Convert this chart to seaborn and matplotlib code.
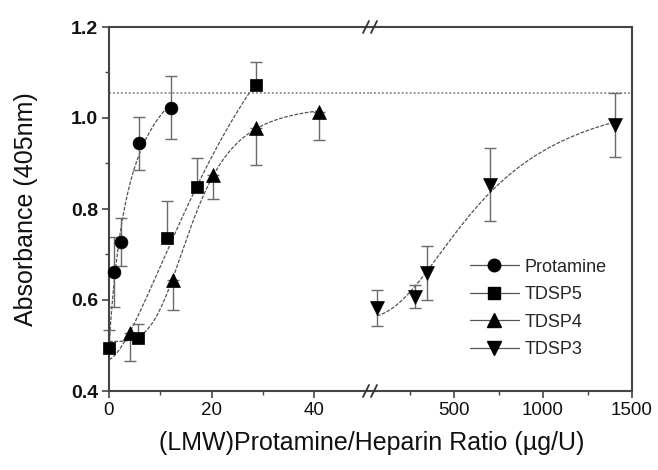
import numpy as np
import pandas as pd
import matplotlib
matplotlib.use("Agg")
import matplotlib.pyplot as plt
from matplotlib.lines import Line2D
from matplotlib.ticker import FixedLocator, MultipleLocator
import seaborn as sns

# Mean absorbance at 405 nm with error, per protamine/heparin ratio (ug/U)
baseline_x = [0.0]
baseline_y = [0.494]

protamine_x = [1.0, 2.4, 5.9, 12.0]
protamine_y = [0.662, 0.728, 0.944, 1.023]
protamine_err = [0.077, 0.053, 0.058, 0.07]

tdsp5_x = [0.0, 5.7, 11.4, 17.1, 28.6]
tdsp5_y = [0.494, 0.517, 0.737, 0.849, 1.073]
tdsp5_err = [0.04, 0.03, 0.08, 0.062, 0.05]

tdsp4_x = [4.1, 12.4, 20.3, 28.7, 40.9]
tdsp4_y = [0.527, 0.645, 0.875, 0.977, 1.014]
tdsp4_err = [0.06, 0.068, 0.053, 0.08, 0.062]

tdsp3_x = [67, 281, 348, 702, 1404]
tdsp3_y = [0.582, 0.607, 0.659, 0.853, 0.985]
tdsp3_err = [0.04, 0.025, 0.06, 0.08, 0.07]

max_response = 1.056

series_names = ["Protamine", "TDSP5", "TDSP4", "TDSP3"]
y_ticks = [0.4, 0.6, 0.8, 1.0, 1.2]
left_ticks = [0, 20, 40]
right_ticks = [500, 1000, 1500]

sns.set_theme(style="ticks")
plt.rcParams["font.family"] = ["Liberation Sans", "DejaVu Sans"]
plt.rcParams["axes.edgecolor"] = "#444444"
plt.rcParams["axes.linewidth"] = 1.5

W, H = 658, 470
fig = plt.figure(figsize=(W / 100, H / 100), dpi=100)


def px_box(x0, x1, y_top, y_bot):
    return [x0 / W, 1 - y_bot / H, (x1 - x0) / W, (y_bot - y_top) / H]


ax_l = fig.add_axes(px_box(109, 370, 27, 391))
ax_r = fig.add_axes(px_box(370, 632, 27, 391), sharey=ax_l)


def hill_curve(x, y, n_range, n_pts=200):
    """Least-squares Hill fit y = a + b * x^n / (k^n + x^n)."""
    x = np.asarray(x, float)
    y = np.asarray(y, float)
    best = None
    for k in np.geomspace(x.max() * 0.05, x.max() * 8, 160):
        for n in np.linspace(n_range[0], n_range[1], 41):
            xn = x ** n
            basis = np.column_stack([np.ones_like(x), xn / (k ** n + xn)])
            coef, *_ = np.linalg.lstsq(basis, y, rcond=None)
            res = float(((basis @ coef - y) ** 2).sum())
            if best is None or res < best[0]:
                best = (res, k, n, coef)
    _, k, n, coef = best
    xs = np.linspace(x.min(), x.max(), n_pts)
    xsn = xs ** n
    return xs, coef[0] + coef[1] * xsn / (k ** n + xsn)


curve_style = dict(color="#555555", linewidth=0.9, dashes=(3, 1.2))
err_style = dict(fmt="none", ecolor="#6a6a6a", elinewidth=1.0,
                 capsize=4, capthick=1.0, zorder=2, clip_on=False)
mk = dict(color="black", edgecolor="black", linewidth=0.5, zorder=4,
          clip_on=False, legend=False)

# fitted curves
fits = [
    (ax_l, baseline_x + protamine_x, baseline_y + protamine_y, (1.0, 2.0)),
    (ax_l, tdsp5_x, tdsp5_y, (1.0, 1.5)),
    (ax_l, baseline_x + tdsp4_x, baseline_y + tdsp4_y, (1.0, 4.0)),
    (ax_r, tdsp3_x, tdsp3_y, (1.0, 2.2)),
]
for ax, fx, fy, n_range in fits:
    xs, ys = hill_curve(fx, fy, n_range)
    df = pd.DataFrame({"x": xs, "y": ys})
    sns.lineplot(data=df, x="x", y="y", ax=ax, sort=False, estimator=None,
                 **curve_style)

# error bars (both sides / upper only / lower only)
z = lambda v: [0] * len(v)
ax_l.errorbar(protamine_x, protamine_y, yerr=[protamine_err, protamine_err], **err_style)
ax_l.errorbar(tdsp5_x, tdsp5_y, yerr=[z(tdsp5_err), tdsp5_err], **err_style)
ax_l.errorbar(tdsp4_x, tdsp4_y, yerr=[tdsp4_err, z(tdsp4_err)], **err_style)
ax_r.errorbar(tdsp3_x, tdsp3_y, yerr=[tdsp3_err, tdsp3_err], **err_style)

# markers
sns.scatterplot(x=protamine_x, y=protamine_y, ax=ax_l, marker="o", s=85, **mk)
sns.scatterplot(x=tdsp5_x, y=tdsp5_y, ax=ax_l, marker="s", s=80, **mk)
sns.scatterplot(x=tdsp4_x, y=tdsp4_y, ax=ax_l, marker="^", s=100, **mk)
sns.scatterplot(x=tdsp3_x, y=tdsp3_y, ax=ax_r, marker="v", s=100, **mk)

# maximal-response reference line
for ax in (ax_l, ax_r):
    ax.axhline(max_response, color="#8a8a8a", linewidth=1.3,
               linestyle=(0, (1, 1.2)), zorder=1)
    ax.set_xlabel("")
    ax.set_ylabel("")

# axis ranges and ticks
ax_l.set_ylim(0.4, 1.2)
ax_l.set_xlim(0, 50.9)
ax_r.set_xlim(28, 1500)

ax_l.yaxis.set_major_locator(FixedLocator(y_ticks))
ax_l.yaxis.set_minor_locator(MultipleLocator(0.1))
ax_l.xaxis.set_major_locator(FixedLocator(left_ticks))
ax_l.xaxis.set_minor_locator(FixedLocator([10, 30]))
ax_r.xaxis.set_major_locator(FixedLocator(right_ticks))
ax_r.xaxis.set_minor_locator(FixedLocator([250, 750, 1250]))
ax_l.set_yticklabels([f"{v:.1f}" for v in y_ticks], fontsize=14, fontweight="bold")
ax_l.set_xticklabels([str(v) for v in left_ticks], fontsize=13.5)
ax_r.set_xticklabels([str(v) for v in right_ticks], fontsize=13.5)

for ax in (ax_l, ax_r):
    ax.tick_params(which="major", length=5, width=1.2, color="#444444",
                   direction="out", pad=3, labelcolor="#111111")
    ax.tick_params(which="minor", length=3, width=1.0, color="#444444",
                   direction="out")
    ax.tick_params(top=False, right=False, which="both")
    ax.spines["top"].set_visible(True)

ax_l.spines["right"].set_visible(False)
ax_r.spines["left"].set_visible(False)
ax_r.tick_params(axis="y", which="both", left=False, labelleft=False)

# break marks on the x axis gap
for yb in (27, 391):
    for xb in (366, 374):
        fig.add_artist(Line2D([(xb - 3) / W, (xb + 3) / W],
                              [1 - (yb + 6) / H, 1 - (yb - 6) / H],
                              transform=fig.transFigure, color="#333333",
                              linewidth=1.3))

# axis titles
fig.text(26 / W, 1 - 209 / H, "Absorbance (405nm)", rotation=90,
         ha="center", va="center", fontsize=18, color="#111111")
fig.text(372 / W, 1 - 443 / H, "(LMW)Protamine/Heparin Ratio (\u00b5g/U)",
         ha="center", va="center", fontsize=18, color="#111111")

# legend
handles = [
    Line2D([], [], color="#555555", linewidth=0.9, marker=m, markersize=ms,
           markerfacecolor="black", markeredgecolor="black")
    for m, ms in zip(["o", "s", "^", "v"], [9, 8.5, 10, 10])
]
ax_r.legend(handles, series_names, loc="center left",
            bbox_to_anchor=(470 / W, 1 - 308.5 / H),
            bbox_transform=fig.transFigure, frameon=False, fontsize=13,
            handlelength=2.7, handletextpad=0.3, labelspacing=0.58,
            borderpad=0, borderaxespad=0)

fig.savefig("out.png", dpi=100)
